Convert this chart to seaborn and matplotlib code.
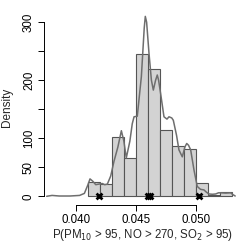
import numpy as np
import pandas as pd
import matplotlib
matplotlib.use("Agg")
import matplotlib.pyplot as plt
import seaborn as sns

# histogram (density scale), bins of width 0.001
bin_edges = [0.041, 0.042, 0.043, 0.044, 0.045, 0.046, 0.047, 0.048, 0.049,
             0.050, 0.051, 0.052, 0.053]
bin_heights = [24, 21, 103, 65.5, 246, 220, 115, 86.7, 81, 22.4, 2.5, 8]

# kernel density curve
curve_x = [0.03755, 0.0380, 0.0386, 0.0395, 0.0403, 0.0407, 0.0410, 0.04117,
           0.0414, 0.04165, 0.0419, 0.0422, 0.0424, 0.04262, 0.0429, 0.04317,
           0.0435, 0.04379, 0.0440, 0.04420, 0.0445, 0.0447, 0.04485, 0.04512,
           0.04546, 0.0457, 0.04579, 0.0459, 0.0461, 0.0463, 0.04646, 0.04665,
           0.04679, 0.0469, 0.04707, 0.04735, 0.0476, 0.04777, 0.0480, 0.04813,
           0.0484, 0.0486, 0.04888, 0.0491, 0.04925, 0.0494, 0.04958, 0.04986,
           0.05013, 0.0504, 0.05069, 0.0509, 0.05111, 0.0514, 0.05167, 0.0519,
           0.05209, 0.0525, 0.05292, 0.0531, 0.0533]
curve_y = [0, 1.5, 0.5, 0.5, 1.5, 5, 20, 30,
           26, 20, 21, 22, 20, 21, 35, 60,
           85, 113, 95, 66, 95, 125, 137, 138,
           206, 290, 310, 300, 246, 200, 183, 200,
           209, 200, 177, 137, 133, 137, 135, 131,
           105, 80, 68, 85, 91, 88, 80, 45,
           17, 12, 11, 7, 4, 3.5, 4, 6,
           6, 5.5, 6, 3, 0.5]

# crosses on the axis
mark_x = [0.0419, 0.0460, 0.0462, 0.0503]

sns.set_style("ticks")
plt.rcParams['font.family'] = ['Liberation Sans', 'DejaVu Sans']

fig = plt.figure(figsize=(2.49, 2.49), dpi=100)
ax = fig.add_axes([44/249, (249-205)/249, (240-44)/249, (205-10)/249])

centers = [(a + b) / 2 for a, b in zip(bin_edges[:-1], bin_edges[1:])]
sns.histplot(x=centers, weights=bin_heights, bins=bin_edges, stat="count",
             color="#d3d3d3", edgecolor="#555555", linewidth=0.8, alpha=1, ax=ax)
sns.lineplot(x=curve_x, y=curve_y, color="#6e6e6e", linewidth=1.1, ax=ax)
sns.scatterplot(x=mark_x, y=[0]*len(mark_x), marker="x", color="black",
                s=18, linewidth=2, ax=ax, zorder=5)

ax.set_xlim(0.037327, 0.053701)
ax.set_ylim(-15, 321)
ax.set_xticks([0.040, 0.045, 0.050])
ax.set_xticklabels(["0.040", "0.045", "0.050"])
ax.set_yticks([0, 50, 100, 150, 200, 250, 300])
ax.set_yticklabels(["0", "50", "100", "", "200", "", "300"], rotation=90, va="center")
ax.tick_params(labelsize=8.3, length=4.5, width=0.7, colors="black", pad=2)
for s in ["top", "right"]:
    ax.spines[s].set_visible(False)
ax.spines["left"].set_bounds(0, 300)
ax.spines["bottom"].set_bounds(0.040, 0.050)
for s in ["left", "bottom"]:
    ax.spines[s].set_linewidth(0.7)
    ax.spines[s].set_color("black")
ax.set_ylabel("Density", fontsize=8.5, labelpad=7)
ax.xaxis.set_label_coords((141 - 44) / (240 - 44), -(235 - 205) / (205 - 10))
ax.set_xlabel(r"P(PM$_{10}$ > 95, NO > 270, SO$_2$ > 95)", fontsize=8.3, va="center")

fig.savefig("out.png", dpi=100)
